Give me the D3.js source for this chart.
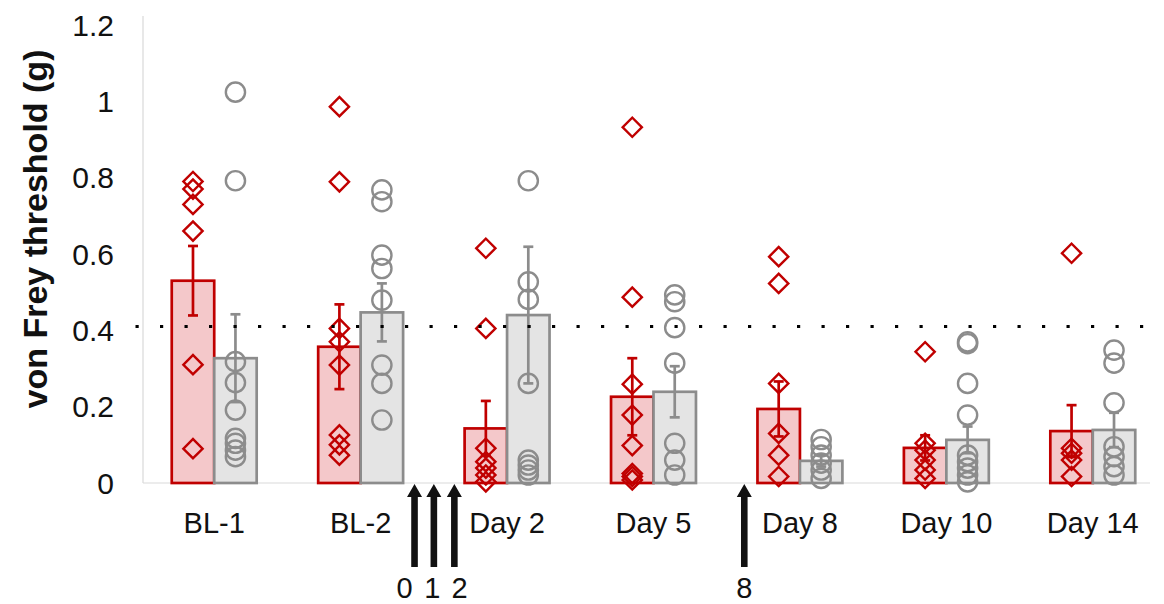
<!DOCTYPE html>
<html>
<head>
<meta charset="utf-8">
<script src="https://cdn.jsdelivr.net/npm/d3@7"></script>
<style>
    body { margin: 0; background: #fff; }
    svg { display: block; font-family: "Liberation Sans", Arial, sans-serif; }
</style>
</head>
<body>
<svg id="chart" width="1164" height="604"></svg>
<script>
// -- DATA --
const categories = ["BL-1", "BL-2", "Day 2", "Day 5", "Day 8", "Day 10", "Day 14"];
const yTicks = [0, 0.2, 0.4, 0.6, 0.8, 1, 1.2];
const threshold = 0.41;

// red group (diamonds)
const redMean = [0.530, 0.357, 0.143, 0.226, 0.194, 0.092, 0.136];
const redSem = [0.091, 0.111, 0.072, 0.101, 0.072, 0.033, 0.068];
const redPoints = [
    [0.79, 0.77, 0.73, 0.66, 0.31, 0.09],
    [0.986, 0.789, 0.405, 0.370, 0.309, 0.126, 0.100, 0.073],
    [0.615, 0.405, 0.091, 0.056, 0.039, 0.021, 0.003],
    [0.932, 0.487, 0.259, 0.178, 0.098, 0.025, 0.017, 0.008],
    [0.593, 0.523, 0.261, 0.130, 0.073, 0.017],
    [0.344, 0.104, 0.086, 0.060, 0.034, 0.012],
    [0.602, 0.091, 0.078, 0.060, 0.017]
];

// gray group (circles)
const grayMean = [0.327, 0.447, 0.440, 0.239, 0.058, 0.113, 0.139];
const graySem = [0.115, 0.076, 0.179, 0.067, 0.015, 0.035, 0.045];
const grayPoints = [
    [1.024, 0.792, 0.318, 0.263, 0.191, 0.117, 0.104, 0.086, 0.069],
    [0.768, 0.737, 0.597, 0.562, 0.479, 0.309, 0.261, 0.165],
    [0.792, 0.527, 0.481, 0.261, 0.060, 0.047, 0.034, 0.021],
    [0.493, 0.475, 0.407, 0.314, 0.104, 0.060, 0.021],
    [0.114, 0.095, 0.073, 0.052, 0.034, 0.012],
    [0.370, 0.365, 0.261, 0.178, 0.073, 0.056, 0.039, 0.021, 0.003],
    [0.348, 0.314, 0.210, 0.095, 0.069, 0.043, 0.021]
];

// injection days marked with arrows (anchor category + offset in steps)
const arrowLabels = ["0", "1", "2", "8"];
const arrowAnchor = ["BL-2", "BL-2", "BL-2", "Day 8"];
const arrowOffset = [0.368, 0.50, 0.64, -0.38];
const arrowLabelOffset = [0.30, 0.49, 0.675, -0.38];

// -- LAYOUT --
const axisX = 143;
const y = d3.scaleLinear().domain([0, 1.2]).range([483, 25]);
const x = d3.scaleBand().domain(categories)
    .range([141, 1166]).paddingInner(0.42).paddingOuter(0.21);
const sub = d3.scaleBand().domain(["red", "gray"]).range([0, x.bandwidth()]);
const step = x.step();
const center = c => x(c) + x.bandwidth() / 2;

const RED = "#c00000", RED_FILL = "#f4c8ca";
const GRAY = "#8c8c8c", GRAY_FILL = "#e4e4e4";

const svg = d3.select("#chart");

// axis lines
svg.append("line")
    .attr("x1", axisX).attr("x2", axisX)
    .attr("y1", 16).attr("y2", y(0))
    .attr("stroke", "#d9d9d9").attr("stroke-width", 1.2);
svg.append("line")
    .attr("x1", axisX).attr("x2", 1150)
    .attr("y1", y(0)).attr("y2", y(0))
    .attr("stroke", "#d9d9d9").attr("stroke-width", 1.2);

// y tick labels
svg.append("g")
    .selectAll("text")
    .data(yTicks)
    .enter().append("text")
    .attr("x", 114)
    .attr("y", d => y(d))
    .attr("dy", "0.36em")
    .attr("text-anchor", "end")
    .attr("font-size", 30)
    .attr("fill", "#111")
    .text(d => d);

// y title
svg.append("text")
    .attr("transform", "translate(47," + 229 + ") rotate(-90)")
    .attr("text-anchor", "middle")
    .attr("font-size", 34)
    .attr("font-weight", "bold")
    .attr("fill", "#111")
    .text("von Frey threshold (g)");

// x labels
svg.append("g")
    .selectAll("text")
    .data(categories)
    .enter().append("text")
    .attr("x", d => center(d))
    .attr("y", 533)
    .attr("text-anchor", "middle")
    .attr("font-size", 29)
    .attr("fill", "#111")
    .text(d => d);

// -- BARS --
function drawGroup(key, means, sems, points, stroke, fill, shape) {
    const g = svg.append("g");
    const bx = (c) => x(c) + sub(key);
    const bw = sub.bandwidth();

    g.selectAll("rect")
        .data(categories)
        .enter().append("rect")
        .attr("x", d => bx(d))
        .attr("y", (d, i) => y(means[i]))
        .attr("width", bw)
        .attr("height", (d, i) => y(0) - y(means[i]))
        .attr("fill", fill)
        .attr("stroke", stroke)
        .attr("stroke-width", 2.7);

    // error bars
    const eb = g.selectAll(".err")
        .data(categories)
        .enter().append("g")
        .attr("class", "err")
        .attr("stroke", stroke)
        .attr("stroke-width", 2.7);
    eb.append("line")
        .attr("x1", d => bx(d) + bw / 2).attr("x2", d => bx(d) + bw / 2)
        .attr("y1", (d, i) => y(means[i] + sems[i]))
        .attr("y2", (d, i) => y(means[i] - sems[i]));
    eb.append("line")
        .attr("x1", d => bx(d) + bw / 2 - 5).attr("x2", d => bx(d) + bw / 2 + 5)
        .attr("y1", (d, i) => y(means[i] + sems[i]))
        .attr("y2", (d, i) => y(means[i] + sems[i]));
    eb.append("line")
        .attr("x1", d => bx(d) + bw / 2 - 5).attr("x2", d => bx(d) + bw / 2 + 5)
        .attr("y1", (d, i) => y(means[i] - sems[i]))
        .attr("y2", (d, i) => y(means[i] - sems[i]));

    // individual points
    let pts = [];
    categories.forEach((c, i) => {
        points[i].forEach(v => pts.push({ cat: c, v: v }));
    });
    const sym = d3.symbol()
        .type(shape === "diamond" ? d3.symbolSquare : d3.symbolCircle)
        .size(shape === "diamond" ? 185 : 290);
    g.selectAll(".pt")
        .data(pts)
        .enter().append("path")
        .attr("class", "pt")
        .attr("d", sym)
        .attr("transform", d => "translate(" + (bx(d.cat) + bw / 2) + "," + y(d.v) + ")" +
            (shape === "diamond" ? " rotate(45)" : ""))
        .attr("fill", "none")
        .attr("stroke", stroke)
        .attr("stroke-width", 2.4);
}

drawGroup("red", redMean, redSem, redPoints, RED, RED_FILL, "diamond");
drawGroup("gray", grayMean, graySem, grayPoints, GRAY, GRAY_FILL, "circle");

// threshold dotted line
svg.append("line")
    .attr("x1", 135.5).attr("x2", 1150)
    .attr("y1", y(threshold)).attr("y2", y(threshold))
    .attr("stroke", "#000")
    .attr("stroke-width", 3.2)
    .attr("stroke-dasharray", "3.2 21.3");

// -- ARROWS --
const arrows = arrowLabels.map((l, i) => ({
    label: l,
    x: center(arrowAnchor[i]) + arrowOffset[i] * step,
    lx: center(arrowAnchor[i]) + arrowLabelOffset[i] * step
}));
const ag = svg.append("g");
ag.selectAll("path")
    .data(arrows)
    .enter().append("path")
    .attr("d", d => {
        const t = y(0) + 1, head = 13, hw = 7.5, sw = 3.3, bot = 567;
        return "M" + d.x + "," + t +
            "L" + (d.x + hw) + "," + (t + head) +
            "L" + (d.x + sw) + "," + (t + head) +
            "L" + (d.x + sw) + "," + bot +
            "L" + (d.x - sw) + "," + bot +
            "L" + (d.x - sw) + "," + (t + head) +
            "L" + (d.x - hw) + "," + (t + head) + "Z";
    })
    .attr("fill", "#111");
ag.selectAll("text")
    .data(arrows)
    .enter().append("text")
    .attr("x", d => d.lx)
    .attr("y", 598)
    .attr("text-anchor", "middle")
    .attr("font-size", 29)
    .attr("fill", "#111")
    .text(d => d.label);
</script>
</body>
</html>
